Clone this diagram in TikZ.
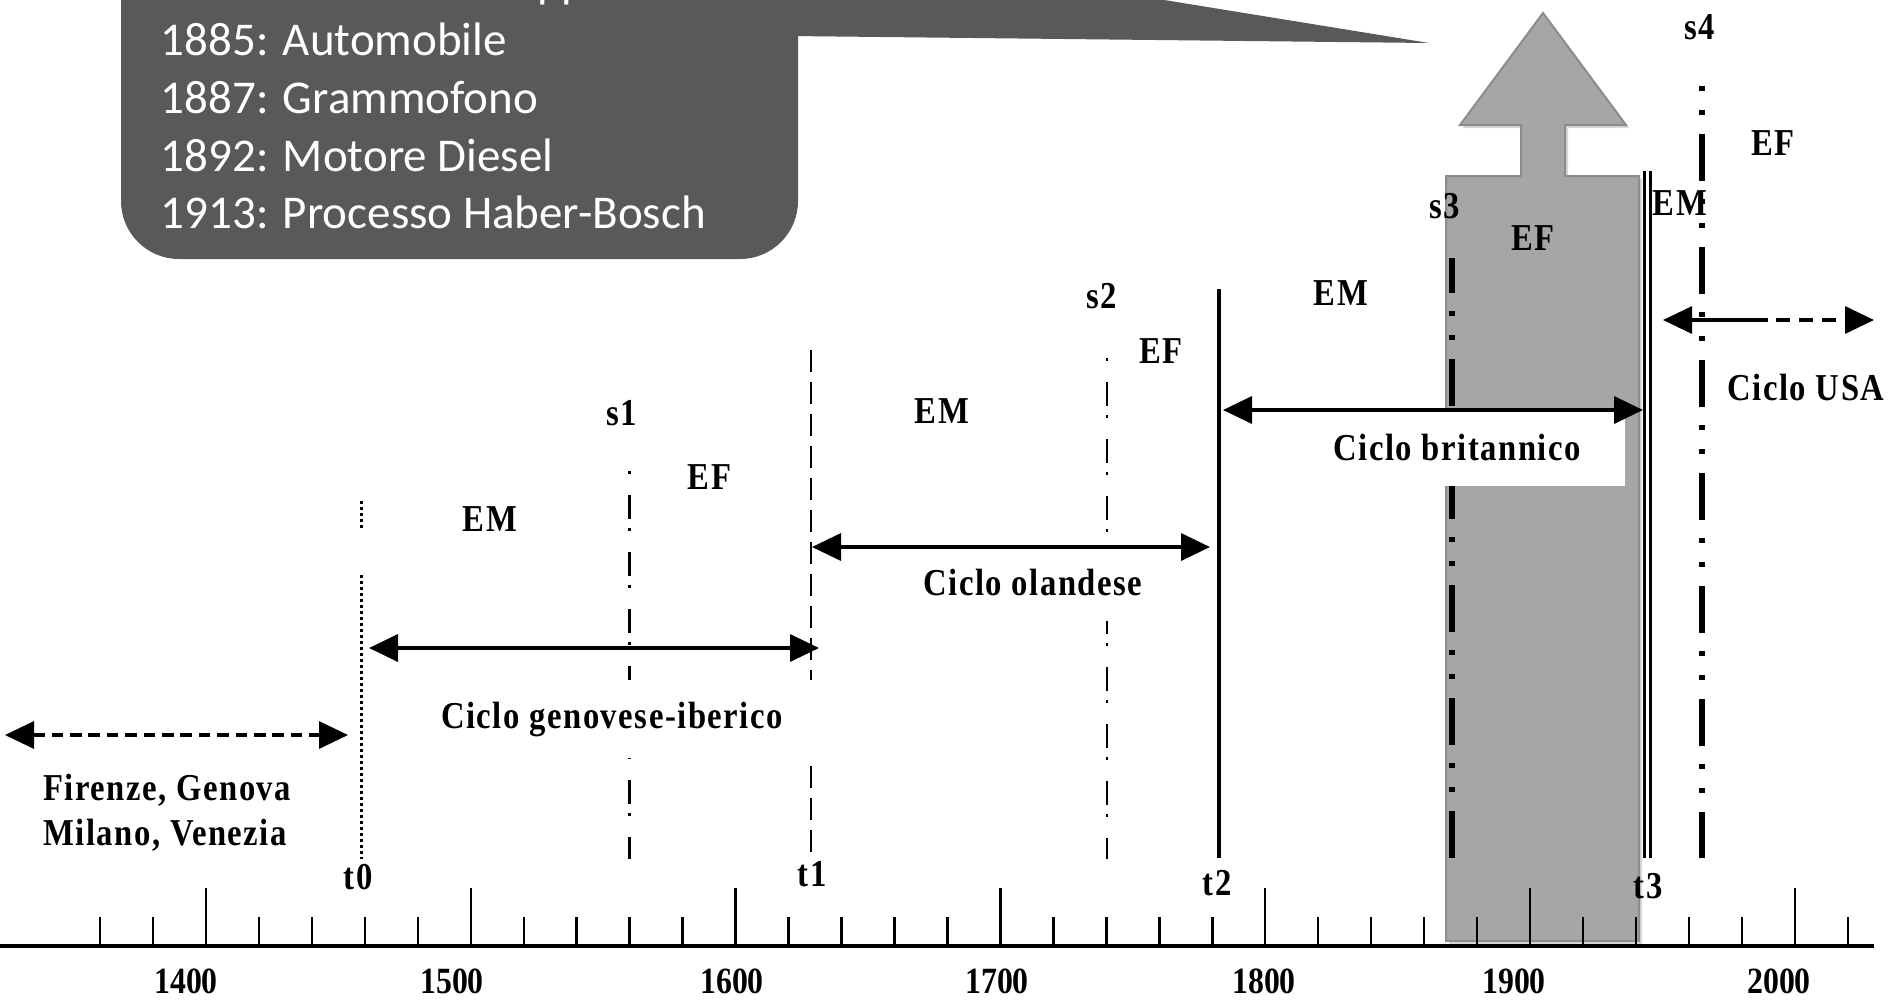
\documentclass[tikz,border=0pt]{standalone}
\usepackage{fontspec}
\usetikzlibrary{arrows.meta}
\newfontfamily\labfont[FakeStretch=0.86,LetterSpace=4]{Liberation Serif}
\newfontfamily\yrfont[FakeStretch=0.86]{Liberation Serif}
\newfontfamily\calfont{Carlito}
\definecolor{boxgrey}{HTML}{595959}
\definecolor{lightgrey}{HTML}{A6A6A6}
\definecolor{edgegrey}{HTML}{8C8C8C}
\tikzset{
  lab/.style={font=\labfont\bfseries\fontsize{38}{40}\selectfont, inner sep=0pt, anchor=base},
  yrlab/.style={font=\yrfont\bfseries\fontsize{37}{39}\selectfont, inner sep=0pt, anchor=base},
  boxtxt/.style={font=\calfont\fontsize{47}{56}\selectfont, text=white, inner sep=0pt, anchor=base west},
  cyclebox/.style={lab, fill=white, minimum height=78pt},
  tickline/.style={line width=2.5pt},
  cycarrow/.style={line width=3.5pt, <->},
  dashedarrow/.style={line width=3.3pt, <->, dash pattern=on 11.7pt off 6.7pt},
  dotline/.style={line width=2.7pt, dash pattern=on 2.7pt off 3.3pt},
  dashline/.style={line width=2.5pt, dash pattern=on 22pt off 10pt},
  thindashdot/.style={line width=2.2pt, dash pattern=on 3pt off 21pt on 24pt off 9pt},
  thickdashdot/.style={line width=5.5pt, dash pattern=on 47pt off 18pt on 5pt off 19pt on 5pt off 19pt},
  >={Triangle[length=29pt,width=27pt]}
}
\begin{document}
\begin{tikzpicture}[x=1pt,y=-1pt]
\useasboundingbox (0,0) rectangle (1897,999);
\clip (0,0) rectangle (1897,999);

% callout box
\fill[boxgrey, rounded corners=58pt] (121,-120) rectangle (798,259);
\fill[boxgrey] (790,36) -- (1429,43) -- (1041,-20) -- (790,-20) -- cycle;
\node[boxtxt] (pp) at (537,-3) {pp};
\node[boxtxt] (l1) at (160.7,55) {1885: Automobile};
\node[boxtxt] (l2) at (160.7,113) {1887: Grammofono};
\node[boxtxt] (l3) at (160.7,171) {1892: Motore Diesel};
\node[boxtxt] (l4) at (160.7,228) {1913: Processo Haber-Bosch};

% grey arrow shape
\fill[black, opacity=0.15] (1449,179) -- (1524,179) -- (1524,128) -- (1463,128) -- (1546,16) -- (1629,128) -- (1568,128) -- (1568,179) -- (1642,179) -- (1642,944) -- (1449,944) -- cycle;
\draw[fill=lightgrey, draw=edgegrey, line width=2pt] (1446,176) -- (1521,176) -- (1521,125) -- (1460,125) -- (1543,13) -- (1626,125) -- (1565,125) -- (1565,176) -- (1639,176) -- (1639,941) -- (1446,941) -- cycle;

% vertical lines
\coordinate (t0a) at (361.7,501);
\coordinate (t0b) at (361.7,529);
\coordinate (t0c) at (361.7,575);
\coordinate (t0d) at (361.7,859);
\draw[dotline] (t0a) -- (t0b);
\draw[dotline] (t0c) -- (t0d);
\coordinate (s1a) at (629.5,471);
\coordinate (s1b) at (629.5,859);
\draw[thindashdot] (s1a) -- (s1b);
\coordinate (t1a) at (811,350);
\coordinate (t1b) at (811,859);
\draw[dashline] (t1a) -- (t1b);
\coordinate (s2a) at (1107,358);
\coordinate (s2b) at (1107,859);
\draw[thindashdot] (s2a) -- (s2b);
\coordinate (t2a) at (1219,289);
\coordinate (t2b) at (1219,858);
\draw[line width=4.5pt] (t2a) -- (t2b);
\coordinate (s3a) at (1452,258);
\coordinate (s3b) at (1452,858);
\draw[thickdashdot, dash phase=12pt] (s3a) -- (s3b);
\coordinate (t3a) at (1647.5,171);
\coordinate (t3b) at (1647.5,858);
\draw[line width=2.3pt, double=white, double distance=3.6pt] (t3a) -- (t3b);
\coordinate (s4a) at (1702,86);
\coordinate (s4b) at (1702,858);
\draw[line width=6pt, dash pattern=on 5pt off 19pt on 5pt off 19pt on 47pt off 18pt] (s4a) -- (s4b);

% axis and ticks
\coordinate (ax0) at (0,946);
\coordinate (ax1) at (1874,946);
\draw[line width=3.5pt] (ax0) -- (ax1);
\foreach \yr in {1360,1380,...,2020}{
  \pgfmathsetmacro{\tx}{206+2.648*(\yr-1400)}
  \pgfmathtruncatemacro{\ismaj}{mod(\yr,100)==0 ? 1 : 0}
  \ifnum\ismaj=1
    \draw[tickline] (\tx,888) -- (\tx,946);
  \else
    \draw[tickline] (\tx,917) -- (\tx,946);
  \fi
}
\node[yrlab] (y1400) at (186,993) {1400};
\node[yrlab] (y1500) at (452,993) {1500};
\node[yrlab] (y1600) at (732,993) {1600};
\node[yrlab] (y1700) at (997,993) {1700};
\node[yrlab] (y1800) at (1264,993) {1800};
\node[yrlab] (y1900) at (1514,993) {1900};
\node[yrlab] (y2000) at (1779,993) {2000};

% cycle labels with white boxes
\node[cyclebox, minimum width=412pt] (gen) at (612,728) {Ciclo genovese-iberico};
\node[cyclebox, minimum width=280pt] (ola) at (1033,595) {Ciclo olandese};
\node[cyclebox, minimum width=336pt] (bri) at (1457,460) {Ciclo britannico};
\node[lab] (usa) at (1806,400) {Ciclo USA};
\node[lab, anchor=base west] (fir1) at (43,800) {Firenze, Genova};
\node[lab, anchor=base west] (fir2) at (43,845) {Milano, Venezia};

% arrows
\coordinate (genL) at (369,648);
\coordinate (genR) at (819,648);
\draw[cycarrow] (genL) -- (genR);
\coordinate (olaL) at (812,547);
\coordinate (olaR) at (1210,547);
\draw[cycarrow] (olaL) -- (olaR);
\coordinate (briL) at (1223,410);
\coordinate (briR) at (1643,410);
\draw[cycarrow] (briL) -- (briR);
\coordinate (usaL) at (1663,320);
\coordinate (usaR) at (1874,320);
\draw[line width=3.3pt, <->, dash pattern=on 77pt off 8pt on 14pt off 9pt on 14pt off 9pt on 14pt off 30pt] (usaL) -- (usaR);
\coordinate (firL) at (5,735);
\coordinate (firR) at (348,735);
\draw[dashedarrow] (firL) -- (firR);

% phase labels
\node[lab] (em1) at (490,531) {EM};
\node[lab] (ef1) at (709.5,489) {EF};
\node[lab] (s1l) at (622,425.7) {s1};
\node[lab] (em2) at (942,423) {EM};
\node[lab] (s2l) at (1101.5,308) {s2};
\node[lab] (ef2) at (1161,363) {EF};
\node[lab] (em3) at (1341,305) {EM};
\node[lab] (s3l) at (1445,218) {s3};
\node[lab] (ef3) at (1533,250) {EF};
\node[lab] (em4) at (1680,215) {EM};
\node[lab] (s4l) at (1700,39) {s4};
\node[lab] (ef4) at (1773,155) {EF};
\node[lab] (t0l) at (358,889) {t0};
\node[lab] (t1l) at (812,886) {t1};
\node[lab] (t2l) at (1217,895) {t2};
\node[lab] (t3l) at (1648,898) {t3};
\end{tikzpicture}
\end{document}
